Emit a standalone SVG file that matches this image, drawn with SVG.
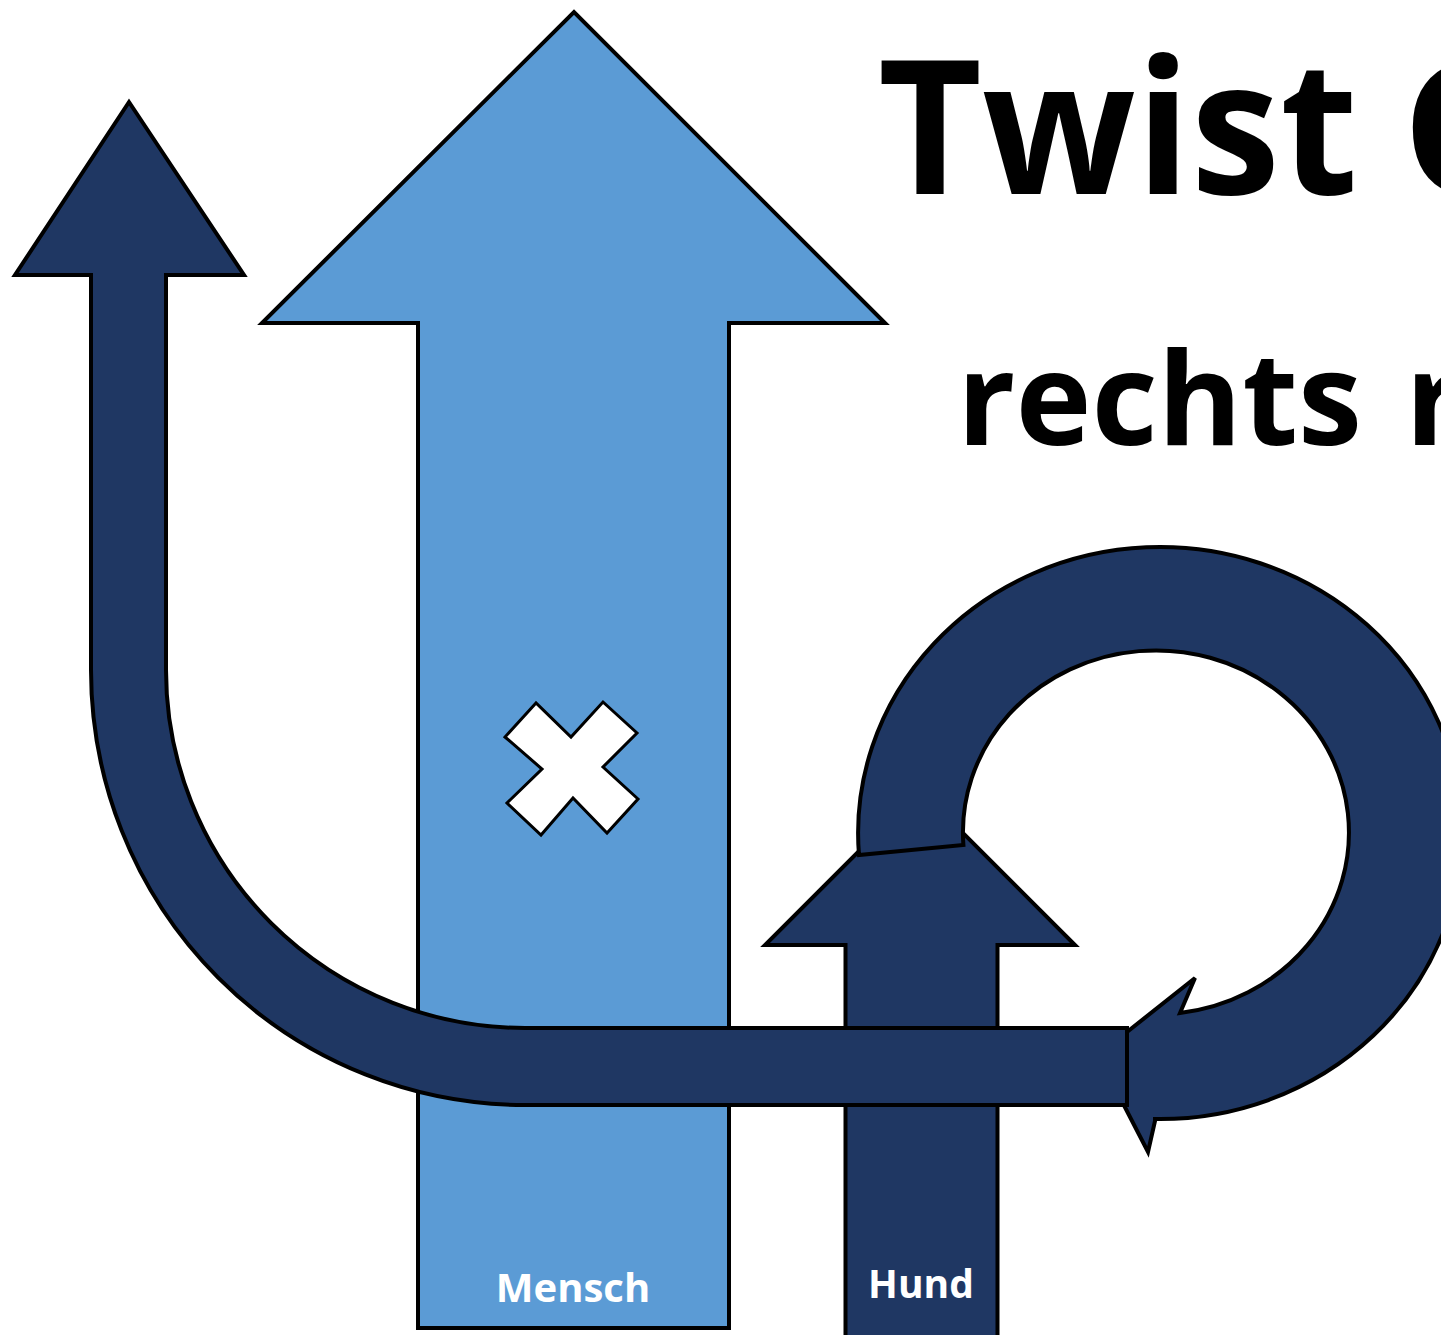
<svg xmlns="http://www.w3.org/2000/svg" width="1441" height="1335" viewBox="0 0 1441 1335">
<style>
.light{fill:#5B9BD5;stroke:#000;stroke-width:4;stroke-linejoin:miter}
.dark{fill:#1F3763;stroke:#000;stroke-width:4;stroke-linejoin:miter}
.cross{fill:#fff;stroke:#000;stroke-width:3}
.lbl{font-family:"Open Sans","Liberation Sans",sans-serif;font-weight:bold;fill:#fff;text-anchor:middle}
.title{font-family:"Open Sans","Liberation Sans",sans-serif;font-weight:bold;fill:#000}
</style>
<rect width="1441" height="1335" fill="#fff"/>
<g id="mensch">
<path class="light" d="M418,1328 L418,323 L262,323 L574,12 L885,323 L729,323 L729,1328 Z"/>
<path class="cross" d="M536,703 L505,737 L542,769 L507,803 L541,835 L573,798 L607,833 L638,799 L603,767 L637,733 L603,702 L571,737 Z"/>
<text class="lbl" x="573" y="1302" font-size="40">Mensch</text>
</g>
<g id="hund">
<path class="dark" d="M845.5,1345 L845.5,945 L765,945 L920,790 L1075,945 L997.5,945 L997.5,1345 Z"/>
<text class="lbl" x="921" y="1298" font-size="39">Hund</text>
</g>
<g id="connectors">
<path id="loop" class="dark" d="M859,855 A302,286 0 1 1 1155,1119 L1155,1121 L1148,1152 L1098,1055 L1195,978 L1180,1013 A193,182 0 1 0 963.4,845 Z"/>
<path id="u-path" class="dark" d="M91,275 L15,275 L129,102 L244,275 L166,275 L166,670 A359,358 0 0 0 525,1028 L1127,1028 L1127,1105 L525,1105 A434,435 0 0 1 91,670 Z"/>
</g>
<g id="title">
<text class="title" x="878" y="194" font-size="186"><tspan textLength="480" lengthAdjust="spacingAndGlyphs">Twist</tspan> <tspan x="1402">G</tspan></text>
<text class="title" x="957" y="445" font-size="130"><tspan textLength="405" lengthAdjust="spacingAndGlyphs">rechts</tspan> <tspan x="1405">r</tspan></text>
</g>
</svg>
